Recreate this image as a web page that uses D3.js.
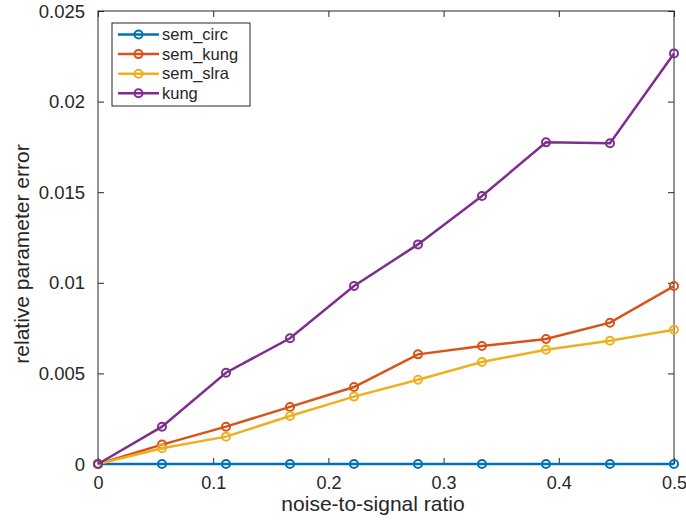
<!DOCTYPE html>
<html>
<head>
<meta charset="utf-8">
<script src="https://cdn.jsdelivr.net/npm/d3@7"></script>
<style>
body { margin: 0; background: #fff; }
text { font-family: "Liberation Sans", Arial, sans-serif; fill: #262626; }
</style>
</head>
<body>
<div id="chart"></div>
<script>
var xValues = [0, 1/18, 2/18, 3/18, 4/18, 5/18, 6/18, 7/18, 8/18, 9/18];
var semCirc = [0, 0, 0, 0, 0, 0, 0, 0, 0, 0];
var semKung = [0, 0.00107, 0.00206, 0.00315, 0.00425, 0.00605, 0.00651, 0.0069, 0.0078, 0.00982];
var semSlra = [0, 0.00087, 0.00151, 0.00265, 0.00372, 0.00465, 0.00563, 0.00631, 0.0068, 0.00741];
var kung = [0, 0.00206, 0.00504, 0.00694, 0.00982, 0.01212, 0.01479, 0.01775, 0.0177, 0.02266];
var seriesNames = ['sem_circ', 'sem_kung', 'sem_slra', 'kung'];
var seriesValues = [semCirc, semKung, semSlra, kung];
var colors = ['#0072BD', '#D95319', '#EDB120', '#7E2F8E'];
var xTicks = [0, 0.1, 0.2, 0.3, 0.4, 0.5];
var yTicks = [0, 0.005, 0.01, 0.015, 0.02, 0.025];

var width = 686,
    height = 520,
    plotLeft = 98, plotRight = 674, plotTop = 11, plotBottom = 464;

var svg = d3.select('#chart')
    .append('svg')
    .attr('width', width)
    .attr('height', height);

var x = d3.scaleLinear().domain([0, 0.5]).range([plotLeft, plotRight]);
var y = d3.scaleLinear().domain([0, 0.025]).range([plotBottom, plotTop]);

var axisColor = '#262626';

// axes with inward ticks, box on
var xAxis = svg.append('g')
    .attr('transform', 'translate(0,' + plotBottom + ')')
    .call(d3.axisBottom(x).tickValues(xTicks).tickSizeInner(-6).tickSizeOuter(0)
        .tickFormat(function(d) { return String(+d.toFixed(3)); }));
xAxis.selectAll('text').attr('font-size', 18).attr('y', 25).attr('dy', 0);

svg.append('g')
    .attr('transform', 'translate(0,' + plotTop + ')')
    .call(d3.axisTop(x).tickValues(xTicks).tickSizeInner(-6).tickSizeOuter(0).tickFormat(''));

var yAxis = svg.append('g')
    .attr('transform', 'translate(' + plotLeft + ',0)')
    .call(d3.axisLeft(y).tickValues(yTicks).tickSizeInner(-6).tickSizeOuter(0)
        .tickFormat(function(d) { return String(+d.toFixed(4)); }));
yAxis.selectAll('text').attr('font-size', 18.5).attr('x', -13).attr('dy', '0.33em');

svg.append('g')
    .attr('transform', 'translate(' + plotRight + ',0)')
    .call(d3.axisRight(y).tickValues(yTicks).tickSizeInner(-6).tickSizeOuter(0).tickFormat(''));

svg.selectAll('.domain').remove();
svg.selectAll('.tick line').attr('stroke', axisColor);

svg.append('rect')
    .attr('x', plotLeft).attr('y', plotTop)
    .attr('width', plotRight - plotLeft).attr('height', plotBottom - plotTop)
    .attr('fill', 'none').attr('stroke', axisColor).attr('stroke-width', 1);

svg.append('text')
    .attr('x', (plotLeft + plotRight) / 2 - 13).attr('y', 511)
    .attr('text-anchor', 'middle').attr('font-size', 21)
    .text('noise-to-signal ratio');

svg.append('text')
    .attr('transform', 'translate(28.5,254) rotate(-90)')
    .attr('text-anchor', 'middle').attr('font-size', 21)
    .text('relative parameter error');

var line = d3.line()
    .x(function(d, i) { return x(xValues[i]); })
    .y(function(d) { return y(d); });

seriesValues.forEach(function(vals, k) {
    var g = svg.append('g');
    g.append('path')
        .datum(vals)
        .attr('d', line)
        .attr('fill', 'none')
        .attr('stroke', colors[k])
        .attr('stroke-width', 2.5);
    g.selectAll('circle')
        .data(vals)
        .enter()
        .append('circle')
        .attr('cx', function(d, i) { return x(xValues[i]); })
        .attr('cy', function(d) { return y(d); })
        .attr('r', 4)
        .attr('fill', 'none')
        .attr('stroke', colors[k])
        .attr('stroke-width', 2);
});

// legend
var legend = svg.append('g');
legend.append('rect')
    .attr('x', 112).attr('y', 23)
    .attr('width', 138).attr('height', 83)
    .attr('fill', '#fff').attr('stroke', axisColor).attr('stroke-width', 1);

seriesNames.forEach(function(name, k) {
    var ly = 34.5 + k * 19.6;
    legend.append('line')
        .attr('x1', 118).attr('x2', 159)
        .attr('y1', ly).attr('y2', ly)
        .attr('stroke', colors[k]).attr('stroke-width', 2.5);
    legend.append('circle')
        .attr('cx', 138.5).attr('cy', ly).attr('r', 4)
        .attr('fill', 'none').attr('stroke', colors[k]).attr('stroke-width', 2);
    legend.append('text')
        .attr('x', 162).attr('y', ly).attr('dy', '0.35em')
        .attr('font-size', 16.5)
        .text(name);
});
</script>
</body>
</html>
